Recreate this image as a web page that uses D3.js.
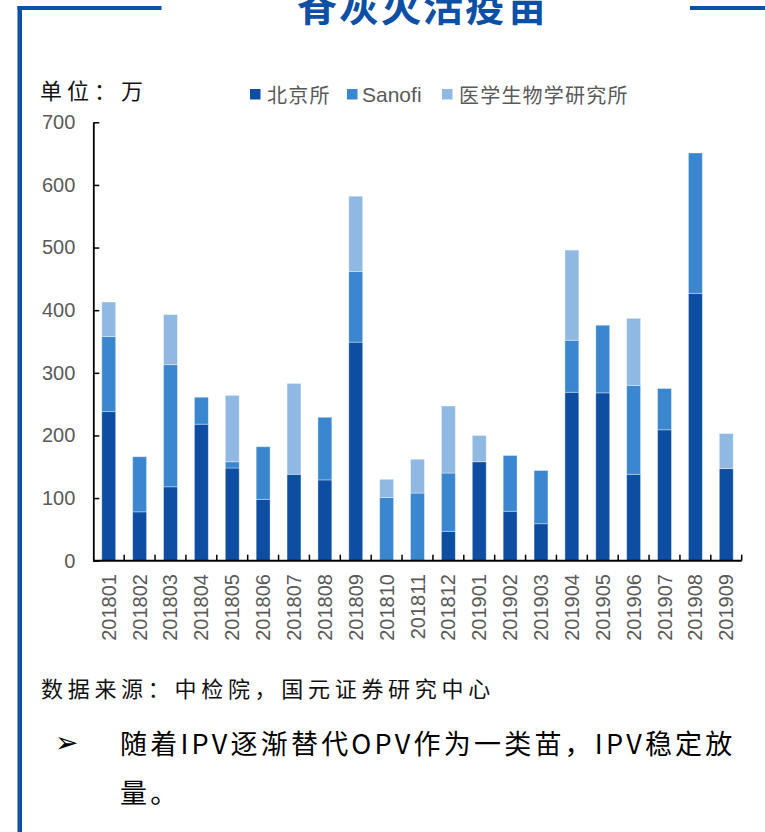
<!DOCTYPE html>
<html>
<head>
<meta charset="utf-8">
<script src="https://cdn.jsdelivr.net/npm/d3@7"></script>
<style>
  body { margin: 0; background: #fff; }
  svg { display: block; }
  .cjk { font-family: "Noto Sans CJK SC", sans-serif; }
  .lat { font-family: "Liberation Sans", Arial, sans-serif; }
</style>
</head>
<body>
<div id="chart"></div>
<script>
// Monthly batch release volumes (万)
var months = ["201801", "201802", "201803", "201804", "201805", "201806", "201807",
  "201808", "201809", "201810", "201811", "201812", "201901", "201902", "201903",
  "201904", "201905", "201906", "201907", "201908", "201909"];
var beijing = [238, 78, 118, 218, 148, 98, 138, 129, 349, 0, 0, 47, 158, 79, 59, 269, 268, 138, 209, 427, 147];
var sanofi = [120, 88, 195, 43, 10, 84, 0, 100, 113, 101, 108, 93, 0, 89, 85, 83, 108, 142, 66, 224, 0];
var yixue = [55, 0, 80, 0, 106, 0, 145, 0, 120, 29, 54, 107, 42, 0, 0, 144, 0, 107, 0, 0, 56];
var seriesNames = ["北京所", "Sanofi", "医学生物学研究所"];
var yTicks = [0, 100, 200, 300, 400, 500, 600, 700];

var colors = ["#0D4EA2", "#3A87CF", "#8FB9E3"];
var frameBlue = "#0B50A5";

var svg = d3.select("#chart").append("svg")
  .attr("width", 765)
  .attr("height", 832);

// Frame
svg.append("rect").attr("x", 17.5).attr("y", 6).attr("width", 4.5).attr("height", 830).attr("fill", frameBlue);
svg.append("rect").attr("x", 17.5).attr("y", 6).attr("width", 144).attr("height", 4).attr("fill", frameBlue);
svg.append("rect").attr("x", 690).attr("y", 6).attr("width", 80).attr("height", 4).attr("fill", frameBlue);

// Title (cut at the top edge, as in the source page)
svg.append("text")
  .attr("class", "cjk")
  .attr("x", 423).attr("y", 21)
  .attr("text-anchor", "middle")
  .attr("font-size", 40).attr("font-weight", "bold")
  .attr("letter-spacing", 2)
  .attr("fill", frameBlue)
  .text("脊灰灭活疫苗");

// Unit label
svg.append("text")
  .attr("class", "cjk")
  .attr("x", 40).attr("y", 89)
  .attr("dominant-baseline", "central")
  .attr("font-size", 22).attr("letter-spacing", 5)
  .attr("fill", "#111")
  .text("单位：万");

// Scales
var x = d3.scaleBand().domain(months).range([93.3, 741.7]).padding(0);
var y = d3.scaleLinear().domain([0, 700]).range([560.7, 122.3]);
var barW = x.bandwidth() * 0.45;

var table = months.map(function (m, i) {
  return { month: m, "北京所": beijing[i], "Sanofi": sanofi[i], "医学生物学研究所": yixue[i] };
});
var stacked = d3.stack().keys(seriesNames)(table);

// Bars
var g = svg.append("g");
stacked.forEach(function (layer, li) {
  g.selectAll(".bar" + li)
    .data(layer.filter(function (d) { return d[1] - d[0] > 0; }))
    .enter().append("rect")
    .attr("x", function (d) { return x(d.data.month) + (x.bandwidth() - barW) / 2; })
    .attr("y", function (d) { return y(d[1]); })
    .attr("width", barW)
    .attr("height", function (d) { return y(d[0]) - y(d[1]); })
    .attr("fill", colors[li])
    .attr("stroke", "rgba(255,255,255,0.45)")
    .attr("stroke-width", 0.8);
});

// Y axis
var yAxis = d3.axisLeft(y).tickValues(yTicks).tickSizeInner(-6).tickSizeOuter(0).tickPadding(18);
var ya = svg.append("g").attr("transform", "translate(93.3,0)").call(yAxis);
ya.select(".domain").attr("stroke", "#000").attr("stroke-width", 1.8);
ya.selectAll(".tick line").attr("stroke", "#000").attr("stroke-width", 1.5);
ya.selectAll(".tick text")
  .attr("class", "lat")
  .attr("font-size", 20)
  .attr("fill", "#595959");

// X axis (ticks at category boundaries)
var xa = svg.append("g");
xa.append("line")
  .attr("x1", x.range()[0]).attr("x2", x.range()[1])
  .attr("y1", y(0)).attr("y2", y(0))
  .attr("stroke", "#000").attr("stroke-width", 2);
var bounds = months.slice(1).map(function (m) { return x(m); }).concat([x.range()[1]]);
xa.selectAll(".xt").data(bounds).enter().append("line")
  .attr("x1", function (d) { return d; }).attr("x2", function (d) { return d; })
  .attr("y1", y(0)).attr("y2", y(0) - 6)
  .attr("stroke", "#000").attr("stroke-width", 1.5);
xa.selectAll(".xl").data(months).enter().append("text")
  .attr("class", "lat")
  .attr("transform", function (d) {
    return "translate(" + (x(d) + x.bandwidth() / 2) + "," + 574 + ") rotate(-90)";
  })
  .attr("text-anchor", "end")
  .attr("dy", "0.35em")
  .attr("font-size", 20)
  .attr("fill", "#595959")
  .text(function (d) { return d; });

// Legend
var legendX = [250, 347, 442];
var legend = svg.append("g");
seriesNames.forEach(function (name, i) {
  legend.append("rect")
    .attr("x", legendX[i]).attr("y", 89)
    .attr("width", 10.5).attr("height", 10.5)
    .attr("fill", colors[i]);
  legend.append("text")
    .attr("class", i == 1 ? "lat" : "cjk")
    .attr("x", legendX[i] + (i == 1 ? 15 : 17))
    .attr("y", 94.5)
    .attr("dominant-baseline", "central")
    .attr("font-size", i == 1 ? 21 : 20)
    .attr("letter-spacing", i == 1 ? 0 : 1.2)
    .attr("fill", "#595959")
    .text(name);
});

// Source
svg.append("text")
  .attr("class", "cjk")
  .attr("x", 41).attr("y", 687)
  .attr("dominant-baseline", "central")
  .attr("font-size", 22).attr("letter-spacing", 4.7)
  .attr("fill", "#111")
  .text("数据来源：中检院，国元证券研究中心");

// Bullet point
svg.append("text")
  .attr("x", 55).attr("y", 742)
  .attr("dominant-baseline", "central")
  .attr("font-family", "DejaVu Sans")
  .attr("font-size", 28)
  .attr("fill", "#000")
  .text("➢");
svg.append("text")
  .attr("class", "cjk")
  .attr("x", 120).attr("y", 742)
  .attr("dominant-baseline", "central")
  .attr("font-size", 27).attr("letter-spacing", 3.2)
  .attr("fill", "#000")
  .text("随着IPV逐渐替代OPV作为一类苗，IPV稳定放");
svg.append("text")
  .attr("class", "cjk")
  .attr("x", 120).attr("y", 791)
  .attr("dominant-baseline", "central")
  .attr("font-size", 27).attr("letter-spacing", 3.2)
  .attr("fill", "#000")
  .text("量。");
</script>
</body>
</html>
